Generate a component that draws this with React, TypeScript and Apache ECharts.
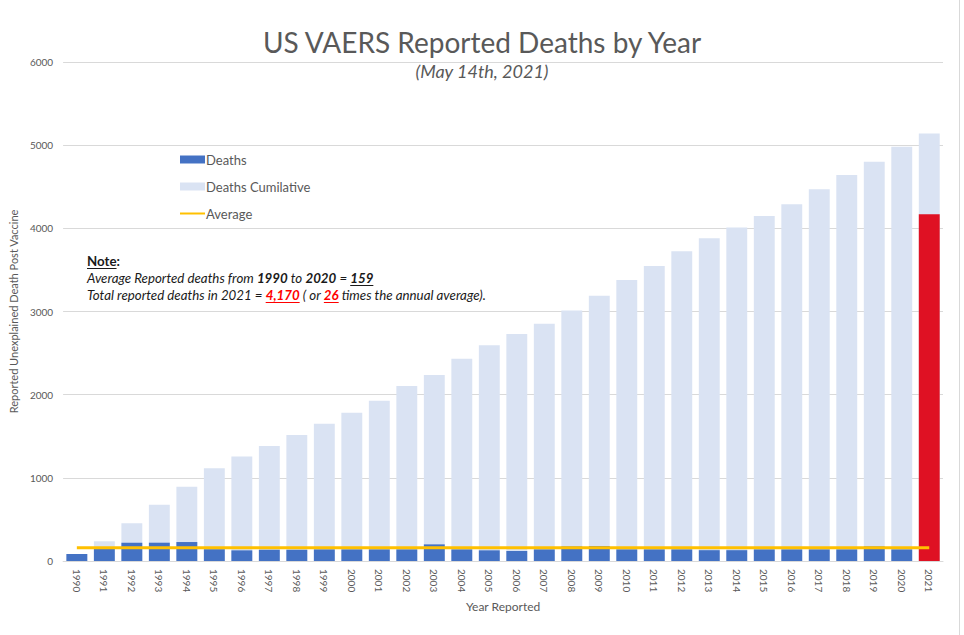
import React, { useEffect, useRef } from "react";
import * as echarts from "echarts";

const years = [
  "1990", "1991", "1992", "1993", "1994", "1995", "1996", "1997", "1998", "1999",
  "2000", "2001", "2002", "2003", "2004", "2005", "2006", "2007", "2008", "2009",
  "2010", "2011", "2012", "2013", "2014", "2015", "2016", "2017", "2018", "2019",
  "2020", "2021",
];
const deaths = [
  84, 150, 220, 220, 228, 142, 128, 135, 135, 140,
  140, 140, 140, 200, 140, 128, 120, 140, 175, 180,
  140, 140, 140, 130, 130, 140, 140, 140, 140, 175,
  140, 4170,
];
const cumulative = [
  84, 237, 453, 677, 893, 1114, 1258, 1382, 1514, 1650,
  1783, 1927, 2103, 2236, 2432, 2593, 2729, 2853, 3013, 3189,
  3378, 3546, 3723, 3882, 4011, 4147, 4291, 4471, 4640, 4800,
  4980, 5141,
];
const AVERAGE = 159;
const yTicks = [0, 1000, 2000, 3000, 4000, 5000, 6000];

const FONT = "Lato, 'Liberation Sans', sans-serif";

type Seg = { t: string; bold?: boolean; italic?: boolean; red?: boolean; u?: boolean };
const noteLines: Seg[][] = [
  [{ t: "Note", bold: true, u: true }, { t: ":", bold: true }],
  [
    { t: "Average Reported deaths from ", italic: true },
    { t: "1990", italic: true, bold: true },
    { t: " to ", italic: true },
    { t: "2020", italic: true, bold: true },
    { t: " = ", italic: true },
    { t: "159", italic: true, bold: true, u: true },
  ],
  [
    { t: "Total reported deaths in 2021 = ", italic: true },
    { t: "4,170", italic: true, bold: true, red: true, u: true },
    { t: " ( or ", italic: true },
    { t: "26", italic: true, bold: true, red: true, u: true },
    { t: " times the annual average).", italic: true },
  ],
];

function buildNote(): any[] {
  const canvas = document.createElement("canvas");
  const ctx = canvas.getContext("2d")!;
  const size = 13.3;
  const els: any[] = [];
  const x0 = 87;
  const ys = [261, 278, 295];
  noteLines.forEach((line, li) => {
    let x = x0;
    line.forEach((s) => {
      const fs = s.italic ? "italic" : "normal";
      const fw = s.bold ? "bold" : "normal";
      ctx.font = `${fs} ${fw} ${size}px Lato`;
      const w = ctx.measureText(s.t).width;
      const color = s.red ? "#FF0000" : "#1a1a1a";
      els.push({
        type: "text",
        x,
        y: ys[li],
        style: {
          text: s.t,
          fill: color,
          fontSize: size,
          fontFamily: FONT,
          fontStyle: fs,
          fontWeight: fw,
          verticalAlign: "middle",
          align: "left",
        },
      });
      if (s.u) {
        els.push({
          type: "line",
          shape: { x1: x, y1: ys[li] + 7.5, x2: x + w, y2: ys[li] + 7.5 },
          style: { stroke: color, lineWidth: 1 },
        });
      }
      x += w;
    });
  });
  return els;
}

export default function App() {
  const ref = useRef<HTMLDivElement>(null);
  useEffect(() => {
    const chart = echarts.init(ref.current!, null, { renderer: "svg" });
    const option: any = {
      animation: false,
      backgroundColor: "#ffffff",
      title: {
        text: "US VAERS Reported Deaths by Year",
        subtext: "(May 14th, 2021)",
        left: "center",
        top: 23,
        itemGap: 6,
        textStyle: { fontFamily: FONT, fontSize: 28, fontWeight: "normal", color: "#595959" },
        subtextStyle: { fontFamily: FONT, fontSize: 18, fontStyle: "italic", color: "#595959" },
      },
      legend: {
        orient: "vertical",
        left: 174,
        top: 148,
        itemWidth: 25,
        itemHeight: 8,
        itemGap: 14,
        textStyle: { fontFamily: FONT, fontSize: 13, color: "#595959", padding: [0, 0, 0, -4] },
        data: [
          { name: "Deaths", icon: "rect" },
          { name: "Deaths Cumilative", icon: "rect" },
          { name: "Average", itemStyle: { opacity: 0 } },
        ],
      },
      grid: { left: 59, right: 21, top: 62, bottom: 74 },
      xAxis: {
        type: "category",
        data: years,
        name: "Year Reported",
        nameLocation: "middle",
        nameGap: 36,
        nameTextStyle: { fontFamily: FONT, fontSize: 12, color: "#595959" },
        axisLine: { lineStyle: { color: "#D9D9D9", width: 1 } },
        axisTick: { show: false },
        axisLabel: { rotate: -90, fontFamily: FONT, fontSize: 10, color: "#595959", margin: 8 },
      },
      yAxis: {
        type: "value",
        min: 0,
        max: 6000,
        interval: 1000,
        name: "Reported Unexplained Death Post Vaccine",
        nameLocation: "middle",
        nameRotate: 90,
        nameGap: 40,
        nameTextStyle: { fontFamily: FONT, fontSize: 11, color: "#595959" },
        axisLine: { show: false },
        axisTick: { show: false },
        axisLabel: {
          fontFamily: FONT,
          fontSize: 10,
          color: "#595959",
          margin: 10,
          formatter: (v: number) => (yTicks.includes(v) ? String(v) : ""),
        },
        splitLine: { lineStyle: { color: "#D9D9D9", width: 1 } },
      },
      series: [
        {
          name: "Deaths Cumilative",
          type: "bar",
          data: cumulative,
          barCategoryGap: "24%",
          itemStyle: { color: "#DAE3F3" },
          z: 1,
        },
        {
          name: "Deaths",
          type: "bar",
          barGap: "-100%",
          data: deaths.map((v, i) =>
            years[i] === "2021" ? { value: v, itemStyle: { color: "#DF1123" } } : v
          ),
          itemStyle: { color: "#4472C4" },
          z: 2,
        },
        {
          name: "Average",
          type: "line",
          data: years.map(() => AVERAGE),
          symbol: "none",
          lineStyle: { color: "#FFC000", width: 3 },
          itemStyle: { color: "#FFC000" },
          z: 3,
        },
      ],
      graphic: [
        ...buildNote(),
        {
          type: "rect",
          shape: { x: 959, y: 0, width: 1, height: 635 },
          style: { fill: "#D9D9D9" },
        },
      ],
    };
    chart.setOption(option);
    return () => chart.dispose();
  }, []);
  return (
    <div
      ref={ref}
      style={{ position: "fixed", left: 0, top: 0, width: 964, height: 635 }}
    />
  );
}
